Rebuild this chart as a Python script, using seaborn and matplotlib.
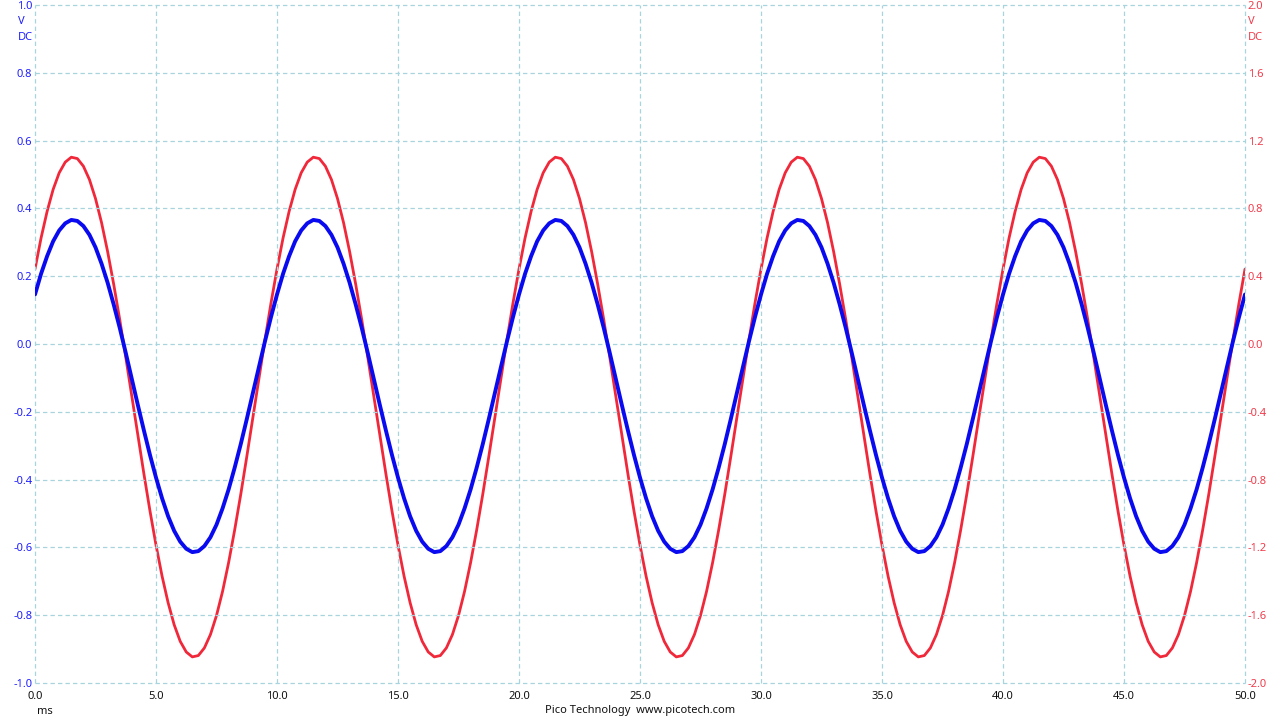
import numpy as np
import pandas as pd
import matplotlib
matplotlib.use("Agg")
import matplotlib.pyplot as plt
import seaborn as sns

# ---- data (one value every 0.25 ms) ----
period_a = [0.146, 0.207, 0.259, 0.303, 0.335, 0.356, 0.366, 0.363, 0.348, 0.322,
            0.285, 0.237, 0.181, 0.117, 0.048, -0.026, -0.103, -0.180, -0.255, -0.327,
            -0.394, -0.455, -0.508, -0.551, -0.583, -0.604, -0.614, -0.611, -0.596, -0.570,
            -0.533, -0.485, -0.429, -0.365, -0.296, -0.222, -0.145, -0.069, 0.007, 0.079]
channel_a = (period_a + period_a + period_a + period_a + period_a + [0.146])

period_b = [0.442, 0.625, 0.782, 0.912, 1.010, 1.073, 1.102, 1.094, 1.049, 0.970,
            0.858, 0.716, 0.546, 0.354, 0.145, -0.078, -0.308, -0.539, -0.766, -0.984,
            -1.186, -1.369, -1.526, -1.656, -1.754, -1.817, -1.846, -1.838, -1.793, -1.714,
            -1.602, -1.460, -1.290, -1.098, -0.889, -0.666, -0.436, -0.205, 0.022, 0.240]
channel_b = (period_b + period_b + period_b + period_b + period_b + [0.442])

time_ms = list(np.linspace(0.0, 50.0, len(channel_a)))

x_ticks = [0, 5, 10, 15, 20, 25, 30, 35, 40, 45, 50]
left_ticks = [-1.0, -0.8, -0.6, -0.4, -0.2, 0.0, 0.2, 0.4, 0.6, 0.8, 1.0]
right_ticks = [-2.0, -1.6, -1.2, -0.8, -0.4, 0.0, 0.4, 0.8, 1.2, 1.6, 2.0]

df = pd.DataFrame({"t": time_ms, "a": channel_a, "b": channel_b})

# ---- style ----
sns.set_style("white")
plt.rcParams["font.family"] = ["Noto Sans", "DejaVu Sans"]

BLUE = "#0A0AF0"
RED = "#F0283A"
GRID = "#A8D4DE"
LBLUE = "#1E1EFF"
LRED = "#F03C4C"

fig = plt.figure(figsize=(12.8, 7.2), dpi=100)
ax = fig.add_axes([35 / 1280, 1 - 683 / 720, 1210 / 1280, 678 / 720])
ax2 = ax.twinx()

sns.lineplot(data=df, x="t", y="b", ax=ax2, color=RED, linewidth=2.0, estimator=None)
sns.lineplot(data=df, x="t", y="a", ax=ax, color=BLUE, linewidth=2.8, estimator=None)

ax.set_zorder(ax2.get_zorder() + 1)
ax.patch.set_visible(False)

ax.set_xlim(0, 50)
ax.set_ylim(-1.0, 1.0)
ax2.set_ylim(-2.0, 2.0)

ax.set_xticks(x_ticks)
ax.set_xticklabels([f"{v:.1f}" for v in x_ticks], fontsize=8, color="#111111")
ax.set_yticks(left_ticks)
ax.set_yticklabels([f"{v:.1f}" for v in left_ticks], fontsize=8, color=LBLUE)
ax2.set_yticks(right_ticks)
ax2.set_yticklabels([f"{v:.1f}" for v in right_ticks], fontsize=8, color=LRED)

ax.tick_params(axis="x", length=0, pad=6)
ax.tick_params(axis="y", length=0, pad=2)
ax2.tick_params(axis="y", length=0, pad=2)

ax.set_xlabel("")
ax.set_ylabel("")
ax2.set_ylabel("")

for a in (ax, ax2):
    for s in a.spines.values():
        s.set_visible(False)

ax.grid(True, color=GRID, linestyle=(0, (3.5, 2.5)), linewidth=0.9)
for gl in ax.get_xgridlines() + ax.get_ygridlines():
    gl.set_clip_on(False)
ax2.grid(False)

# unit labels
fig.text(18 / 1280, 1 - 22 / 720, "V", color=LBLUE, fontsize=8, ha="left", va="center")
fig.text(18 / 1280, 1 - 38 / 720, "DC", color=LBLUE, fontsize=8, ha="left", va="center")
fig.text(1248 / 1280, 1 - 22 / 720, "V", color=LRED, fontsize=8, ha="left", va="center")
fig.text(1248 / 1280, 1 - 38 / 720, "DC", color=LRED, fontsize=8, ha="left", va="center")
fig.text(45 / 1280, 1 - 712 / 720, "ms", color="#111111", fontsize=8, ha="center", va="center")
fig.text(640 / 1280, 1 - 711 / 720, "Pico Technology  www.picotech.com", color="#111111",
         fontsize=8, ha="center", va="center")

fig.savefig("out.png", dpi=100)
